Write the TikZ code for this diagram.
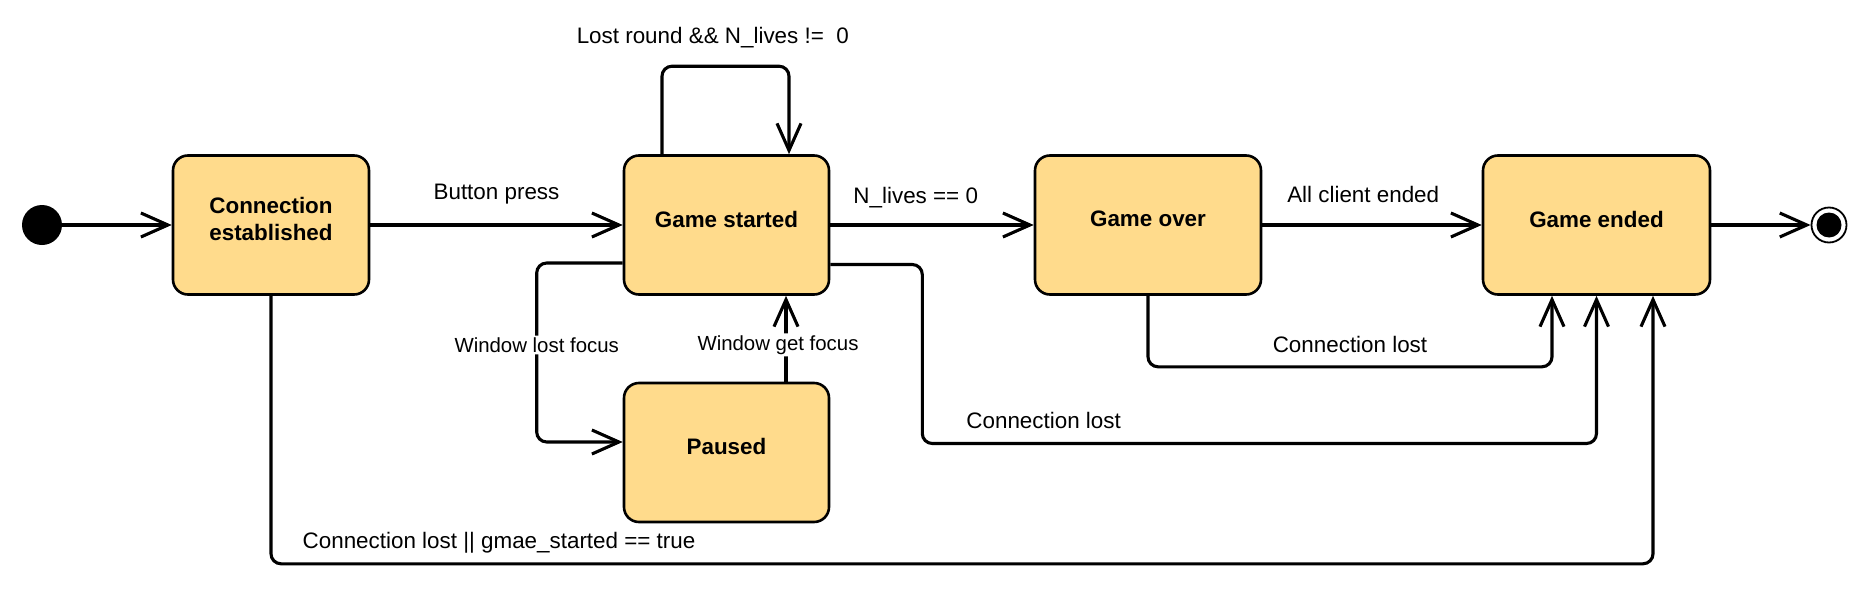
\documentclass[tikz,border=0pt]{standalone}
\usepackage{fontspec}
\setmainfont{Liberation Sans}
\usetikzlibrary{arrows.meta}
\definecolor{statefill}{HTML}{FFDB8C}
\tikzset{
  state/.style={draw, line width=1.3pt, rounded corners=7.5pt, fill=statefill,
    minimum height=69.5pt, align=center, font=\fontsize{11.2}{13.5}\selectfont\bfseries,
    execute at end node={\rule[-6pt]{0pt}{6pt}}},
  trans/.style={line width=1.55pt, rounded corners=5pt,
    -{Straight Barb[length=13.5pt,width=12pt]}},
  lbl/.style={anchor=base, inner sep=0pt, font=\fontsize{11.2}{13.5}\selectfont},
  winlbl/.style={fill=white, inner sep=1pt, font=\fontsize{10.2}{12}\selectfont},
}
\begin{document}
\begin{tikzpicture}[x=0.5pt, y=-0.5pt]
  \useasboundingbox (0,0) rectangle (1875,605);

  % States
  \node [circle, fill, minimum size=20pt, inner sep=0pt] (init) at (42,225) {};
  \node [state, minimum width=98pt] (conn) at (271,225) {Connection\\established};
  \node [state, minimum width=102.5pt] (started) at (726.5,225) {Game started};
  \node [state, minimum width=113pt] (over) at (1148,225) {Game over};
  \node [state, minimum width=113.5pt] (ended) at (1596.5,225) {Game ended};
  \node [state, minimum width=102.5pt] (paused) at (726.5,452.5) {Paused};
  \node [circle, draw, line width=0.9pt, minimum size=17.5pt, inner sep=0pt] (final) at (1829,225) {};
  \fill (final.center) circle (12.5);

  % Transitions
  \draw [trans] (init) -- (conn);
  \draw [trans] (conn) -- node [lbl, yshift=12.8pt] {Button press} (started);
  \draw [trans] (started) -- node [lbl, pos=0.42, yshift=10.8pt] {N\_lives == 0} (over);
  \draw [trans] (over) -- node [lbl, pos=0.46, yshift=11.3pt] {All client ended} (ended);
  \draw [trans] (ended) -- (final);

  % Self loop
  \draw [trans] ([xshift=-32.25pt]started.north) -- ++(0,-88)
    -| node [lbl, pos=0.2, yshift=11.3pt] {Lost round \&\& N\_lives != \ 0} ([xshift=31.25pt]started.north);

  % Pause
  \draw [trans] ([yshift=-19pt]started.west) -| ++(-86,82) node [winlbl] {Window lost focus}
    |- ([yshift=5.25pt]paused.west);
  \draw [trans] ([xshift=29.75pt]paused.north) -- node [winlbl, pos=0.43, xshift=-4pt] {Window get focus}
    ([xshift=29.75pt]started.south);

  % Connection lost
  \draw [trans] (over.south) -- ++(0,71)
    -| node [lbl, pos=0.25, yshift=7.3pt] {Connection lost} ([xshift=-22.25pt]ended.south);
  \draw [trans] ([yshift=-19.75pt]started.east) -| ++(92,179)
    -| node [lbl, pos=0.09, yshift=7.3pt] {Connection lost} (ended.south);
  \draw [trans] (conn.south) -- ++(0,268)
    -| node [lbl, pos=0.0825, yshift=7.5pt] {Connection lost || gmae\_started == true} ([xshift=28.25pt]ended.south);
\end{tikzpicture}
\end{document}
